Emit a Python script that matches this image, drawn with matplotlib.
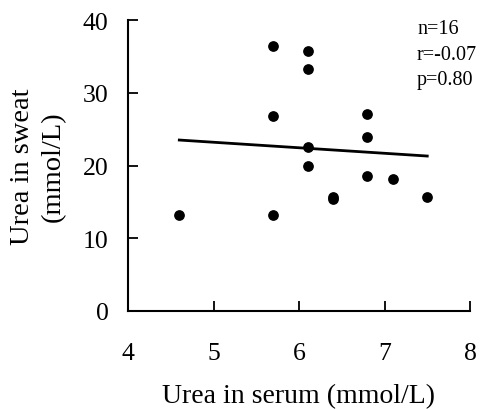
import matplotlib
matplotlib.use("Agg")
import matplotlib.pyplot as plt

# urea values
serum = [4.6, 5.7, 5.7, 5.7, 6.1, 6.1, 6.1, 6.1, 6.4, 6.4, 6.8, 6.8, 6.8, 7.1, 7.5]
sweat = [13.2, 36.4, 26.8, 13.2, 35.7, 33.2, 22.5, 20.0, 15.7, 15.4, 27.1, 23.9, 18.6, 18.2, 15.7]

# regression line ends
fit_x = [4.6, 7.5]
fit_y = [23.5, 21.3]

stats = ["n=16", "r=-0.07", "p=0.80"]
xticks = [4, 5, 6, 7, 8]
yticks = [0, 10, 20, 30, 40]

plt.rcParams["font.family"] = ["Liberation Serif", "DejaVu Serif"]

fig = plt.figure(figsize=(4.84, 4.10), dpi=100)
ax = fig.add_axes([128 / 484, 1 - 312 / 410, 342 / 484, 291 / 410])

ax.scatter(serum, sweat, s=45, color="black", zorder=3, clip_on=False)
ax.plot(fit_x, fit_y, color="black", linewidth=2.0)

ax.set_xlim(4, 8)
ax.set_ylim(0, 40)
ax.set_xticks(xticks)
ax.set_yticks(yticks)

for side in ["top", "right"]:
    ax.spines[side].set_visible(False)
for side in ["left", "bottom"]:
    ax.spines[side].set_linewidth(1.5)

ax.tick_params(axis="both", direction="in", length=7, width=1.3, labelsize=18.5)
ax.tick_params(axis="x", pad=22)
ax.tick_params(axis="y", pad=14)

ax.set_xlabel("Urea in serum (mmol/L)", fontsize=20)
ax.xaxis.label.set_va("center")
ax.xaxis.set_label_coords(0.5, (312 - 397) / 291)

ax.set_ylabel("Urea in sweat\n(mmol/L)", fontsize=20.5, linespacing=1.35)
ax.yaxis.label.set_va("center")
ax.yaxis.set_label_coords((38 - 128) / 342, 0.5)

for i, s in enumerate(stats):
    fig.text(417 / 484, 1 - (29 + 26 * i) / 410, s, fontsize=14.5, va="center", ha="left")

fig.savefig("out.png", dpi=100)
